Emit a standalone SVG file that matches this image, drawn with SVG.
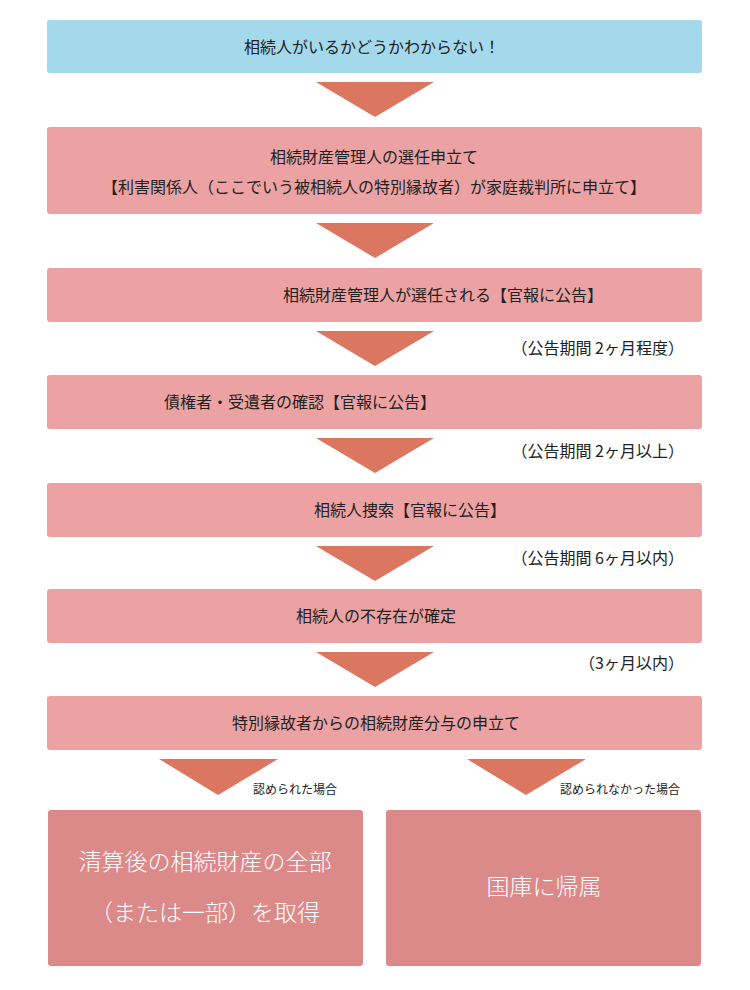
<svg xmlns="http://www.w3.org/2000/svg" width="750" height="990" viewBox="0 0 750 990">
<style>
text{font-family:"Noto Sans CJK JP","Noto Sans",sans-serif;fill:#222;font-size:16px;text-anchor:middle}
.b{fill:#eca2a3}
.f{fill:#dc898a}
.t{fill:#db7660}
.s{font-size:16px;text-anchor:end}
.m{font-size:12px;text-anchor:start}
.w{fill:#fff;font-size:23px;font-weight:300}
</style>
<rect width="750" height="990" fill="#fff"/>
<g id="n1"><rect x="47" y="20" width="655" height="53" rx="3" fill="#a4d9ec"/><text x="372" y="53">相続人がいるかどうかわからない！</text></g>
<g id="n2"><rect class="b" x="47" y="127" width="655" height="87" rx="3"/><text x="374" y="163">相続財産管理人の選任申立て</text><text x="374" y="193">【利害関係人（ここでいう被相続人の特別縁故者）が家庭裁判所に申立て】</text></g>
<g id="n3"><rect class="b" x="47" y="268" width="655" height="54" rx="3"/><text x="443" y="301">相続財産管理人が選任される【官報に公告】</text></g>
<g id="n4"><rect class="b" x="47" y="375" width="655" height="54" rx="3"/><text x="300" y="408">債権者・受遺者の確認【官報に公告】</text></g>
<g id="n5"><rect class="b" x="47" y="483" width="655" height="54" rx="3"/><text x="410" y="516">相続人捜索【官報に公告】</text></g>
<g id="n6"><rect class="b" x="47" y="589" width="655" height="54" rx="3"/><text x="376" y="622">相続人の不存在が確定</text></g>
<g id="n7"><rect class="b" x="47" y="696" width="655" height="54" rx="3"/><text x="376" y="729">特別縁故者からの相続財産分与の申立て</text></g>
<g id="n8"><rect class="f" x="48" y="810" width="315" height="156" rx="3"/><text class="w" x="205" y="870">清算後の相続財産の全部</text><text class="w" x="205" y="921">（または一部）を取得</text></g>
<g id="n9"><rect class="f" x="386" y="810" width="315" height="156" rx="3"/><text class="w" x="544" y="895">国庫に帰属</text></g>
<g id="connectors">
<polygon class="t" points="316,82 434,82 375,117"/>
<polygon class="t" points="316,223 434,223 375,258"/>
<polygon class="t" points="316,331 434,331 375,366"/>
<polygon class="t" points="316,438 434,438 375,473"/>
<polygon class="t" points="316,546 434,546 375,581"/>
<polygon class="t" points="316,652 434,652 375,687"/>
<polygon class="t" points="159,759 278,759 218,795"/>
<polygon class="t" points="467,759 586,759 526,795"/>
<text class="s" x="684" y="354">（公告期間 2ヶ月程度）</text>
<text class="s" x="684" y="457">（公告期間 2ヶ月以上）</text>
<text class="s" x="684" y="564">（公告期間 6ヶ月以内）</text>
<text class="s" x="684" y="669">（3ヶ月以内）</text>
<text class="m" x="253" y="794">認められた場合</text>
<text class="m" x="560" y="794">認められなかった場合</text>
</g>
</svg>
